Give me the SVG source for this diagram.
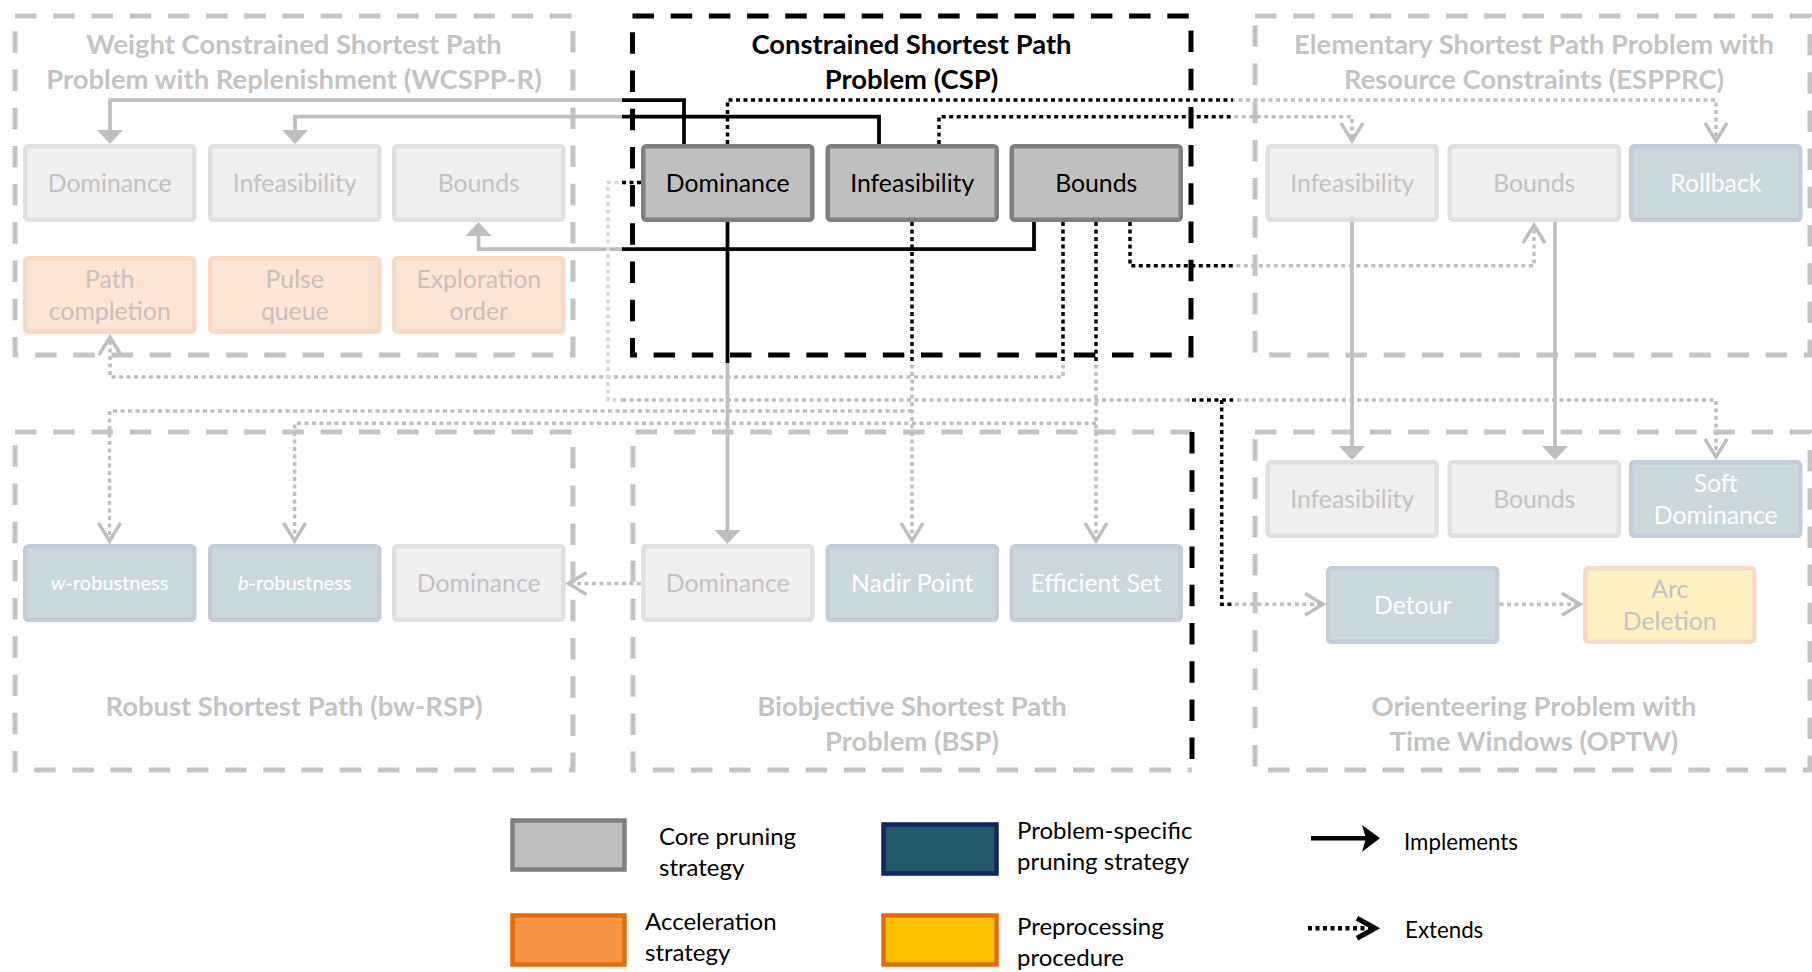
<svg xmlns="http://www.w3.org/2000/svg" width="1812" height="972" viewBox="0 0 1812 972">
  <style>
    .frame { fill: none; stroke: #c4c4c4; stroke-width: 5; stroke-dasharray: 21.5 16.7; }
    .frame.lit { stroke: #000; }
    .title { font-family: Lato, "Liberation Sans", sans-serif; font-weight: 700; font-size: 27.4px; fill: #c4c4c4; text-anchor: middle; }
    .title.lit { fill: #000; }
    .node rect { stroke-width: 4.5; }
    .node text { font-family: Lato, "Liberation Sans", sans-serif; font-size: 24.8px; text-anchor: middle; }
    .node text.small { font-size: 20px; }
    .core rect { fill: #bfbfbf; stroke: #7f7f7f; }
    .core text { fill: #000; }
    .core-dim rect { fill: #efefef; stroke: #e0e0e0; }
    .core-dim text { fill: #c3c3c3; }
    .spec-dim rect { fill: #cbd9dd; stroke: #c5cddb; }
    .spec-dim text { fill: #fff; }
    .accel-dim rect { fill: #fde5d4; stroke: #fad9c3; }
    .accel-dim text { fill: #c6c2bf; }
    .prep-dim rect { fill: #fff0c2; stroke: #f9dac3; }
    .prep-dim text { fill: #c4c4c4; }
    .wire { fill: none; stroke-width: 3.75; stroke-linejoin: miter; }
    .dot { fill: none; stroke-width: 3.5; stroke-dasharray: 4 3.5; }
    .faint { stroke: #d9d9d9; }
    .legend text { font-family: Lato, "Liberation Sans", sans-serif; font-size: 24px; fill: #000; }
    .legend text.small { font-size: 22.3px; }
    .legend rect { stroke-width: 4.5; }
  </style>
  <defs>
    <!-- highlighted area around the CSP box; everything else is drawn washed out -->
    <clipPath id="lit">
      <path d="M622,0 H1233 V780 H1188 V363 H622 Z"/>
    </clipPath>
    <clipPath id="dim">
      <path clip-rule="evenodd" d="M0,0 H1812 V972 H0 Z M622,0 H1233 V780 H1188 V363 H622 Z"/>
    </clipPath>
    <marker id="tri" markerUnits="userSpaceOnUse" markerWidth="16" markerHeight="28" refX="11" refY="13" orient="auto" overflow="visible">
      <path d="M0,0 L14,13 L0,26 Z" fill="#bfbfbf"/>
    </marker>
    <marker id="chev" markerUnits="userSpaceOnUse" markerWidth="20" markerHeight="24" refX="18" refY="11" orient="auto" overflow="visible">
      <path d="M0,0 L18,11 L0,22" fill="none" stroke="#bfbfbf" stroke-width="3.5"/>
    </marker>
  </defs>

  <rect width="1812" height="972" fill="#fff"/>

  <!-- problem frames -->
  <g id="frames">
    <rect class="frame" x="15" y="16" width="558" height="339"/>
    <rect class="frame lit" x="632.5" y="16" width="558.5" height="339"/>
    <rect class="frame" x="1255" y="16" width="555" height="339"/>
    <rect class="frame" x="15" y="432" width="558" height="338"/>
    <path class="frame" d="M1192,432 H633 V770 H1192"/>
    <path class="frame lit" d="M1192,432 V770"/>
    <rect class="frame" x="1255" y="432" width="555" height="338"/>
  </g>

  <g id="titles">
    <text class="title" x="294" y="53.5">Weight Constrained Shortest Path</text>
    <text class="title" x="294" y="88.5">Problem with Replenishment (WCSPP-R)</text>
    <text class="title lit" x="911.5" y="53.5">Constrained Shortest Path</text>
    <text class="title lit" x="911.5" y="88.5">Problem (CSP)</text>
    <text class="title" x="1534" y="53.5">Elementary Shortest Path Problem with</text>
    <text class="title" x="1534" y="88.5">Resource Constraints (ESPPRC)</text>
    <text class="title" x="294" y="715.5">Robust Shortest Path (bw-RSP)</text>
    <text class="title" x="912" y="715.5">Biobjective Shortest Path</text>
    <text class="title" x="912" y="750.5">Problem (BSP)</text>
    <text class="title" x="1534" y="715.5">Orienteering Problem with</text>
    <text class="title" x="1534" y="750.5">Time Windows (OPTW)</text>
  </g>

  <!-- connectors: one washed-out copy with arrowheads, one dark copy inside the highlight -->
  <g id="connectors">
    <g id="links-dim" clip-path="url(#dim)" stroke="#bfbfbf">
      <path class="wire" d="M684,144 V100 H110 V141" marker-end="url(#tri)"/>
      <path class="wire" d="M879,144 V116.7 H295 V141" marker-end="url(#tri)"/>
      <path class="wire" d="M1034,222 V249 H478.5 V225" marker-end="url(#tri)"/>
      <path class="wire" d="M727.5,222 V541" marker-end="url(#tri)"/>
      <path class="wire" d="M1352,222 V457" marker-end="url(#tri)"/>
      <path class="wire" d="M1555,222 V457" marker-end="url(#tri)"/>
      <path class="dot" d="M727.5,144 V100 H1716 V141" marker-end="url(#chev)"/>
      <path class="dot" d="M939,144 V116.7 H1352 V141" marker-end="url(#chev)"/>
      <path class="dot" d="M1130,222 V265.7 H1534 V225" marker-end="url(#chev)"/>
      <path class="dot" d="M912,222 V541" marker-end="url(#chev)"/>
      <path class="dot" d="M1096,222 V541" marker-end="url(#chev)"/>
      <path class="dot" d="M1063,222 V377 H110 V337" marker-end="url(#chev)"/>
      <path class="dot faint" d="M641,182.5 H608 V400 H622"/>
      <path class="dot" d="M622,400 H1716 V457" marker-end="url(#chev)"/>
      <path class="dot" d="M1221.7,400 V604.3 H1323" marker-end="url(#chev)"/>
      <path class="dot" d="M912,411 H109.5 V541" marker-end="url(#chev)"/>
      <path class="dot" d="M1096,423.3 H294.6 V541" marker-end="url(#chev)"/>
      <path class="dot" d="M641,583.5 H568.5" marker-end="url(#chev)"/>
      <path class="dot" d="M1499.5,604.3 H1580" marker-end="url(#chev)"/>
    </g>
    <g id="links-lit" clip-path="url(#lit)" stroke="#000">
      <path class="wire" d="M684,144 V100 H110 V141"/>
      <path class="wire" d="M879,144 V116.7 H295 V141"/>
      <path class="wire" d="M1034,222 V249 H478.5 V225"/>
      <path class="wire" d="M727.5,222 V541"/>
      <path class="dot" d="M727.5,144 V100 H1716 V141"/>
      <path class="dot" d="M939,144 V116.7 H1352 V141"/>
      <path class="dot" d="M1130,222 V265.7 H1534 V225"/>
      <path class="dot" d="M912,222 V541"/>
      <path class="dot" d="M1096,222 V541"/>
      <path class="dot" d="M1063,222 V377 H110 V337"/>
      <path class="dot" d="M641,182.5 H608 V400 H622"/>
      <path class="dot" d="M622,400 H1716 V457"/>
      <path class="dot" d="M1221.7,400 V604.3 H1323"/>
    </g>
  </g>

  <!-- WCSPP-R -->
  <g id="wcspp-dominance" class="node core-dim"><rect x="25.25" y="146.25" width="169" height="73.5" rx="3"/><text x="109.75" y="191.5">Dominance</text></g>
  <g id="wcspp-infeasibility" class="node core-dim"><rect x="210.25" y="146.25" width="169" height="73.5" rx="3"/><text x="294.75" y="191.5">Infeasibility</text></g>
  <g id="wcspp-bounds" class="node core-dim"><rect x="394.25" y="146.25" width="169" height="73.5" rx="3"/><text x="478.75" y="191.5">Bounds</text></g>
  <g id="wcspp-path-completion" class="node accel-dim"><rect x="25.25" y="258.25" width="169" height="73.5" rx="3"/><text x="109.75" y="287.5">Path</text><text x="109.75" y="319.5">completion</text></g>
  <g id="wcspp-pulse-queue" class="node accel-dim"><rect x="210.25" y="258.25" width="169" height="73.5" rx="3"/><text x="294.75" y="287.5">Pulse</text><text x="294.75" y="319.5">queue</text></g>
  <g id="wcspp-exploration-order" class="node accel-dim"><rect x="394.25" y="258.25" width="169" height="73.5" rx="3"/><text x="478.75" y="287.5">Exploration</text><text x="478.75" y="319.5">order</text></g>

  <!-- CSP -->
  <g id="csp-dominance" class="node core"><rect x="643.25" y="146.25" width="169" height="73.5" rx="3"/><text x="727.75" y="191.5">Dominance</text></g>
  <g id="csp-infeasibility" class="node core"><rect x="827.75" y="146.25" width="169" height="73.5" rx="3"/><text x="912.25" y="191.5">Infeasibility</text></g>
  <g id="csp-bounds" class="node core"><rect x="1011.75" y="146.25" width="169" height="73.5" rx="3"/><text x="1096.25" y="191.5">Bounds</text></g>

  <!-- ESPPRC -->
  <g id="espprc-infeasibility" class="node core-dim"><rect x="1267.75" y="146.25" width="169" height="73.5" rx="3"/><text x="1352.25" y="191.5">Infeasibility</text></g>
  <g id="espprc-bounds" class="node core-dim"><rect x="1449.75" y="146.25" width="169" height="73.5" rx="3"/><text x="1534.25" y="191.5">Bounds</text></g>
  <g id="espprc-rollback" class="node spec-dim"><rect x="1631.25" y="146.25" width="169" height="73.5" rx="3"/><text x="1715.75" y="191.5">Rollback</text></g>

  <!-- bw-RSP -->
  <g id="rsp-w-robustness" class="node spec-dim"><rect x="25.25" y="546.25" width="169" height="73.5" rx="3"/><text class="small" x="109.75" y="590"><tspan font-style="italic">w</tspan>-robustness</text></g>
  <g id="rsp-b-robustness" class="node spec-dim"><rect x="210.25" y="546.25" width="169" height="73.5" rx="3"/><text class="small" x="294.75" y="590"><tspan font-style="italic">b</tspan>-robustness</text></g>
  <g id="rsp-dominance" class="node core-dim"><rect x="394.25" y="546.25" width="169" height="73.5" rx="3"/><text x="478.75" y="591.5">Dominance</text></g>

  <!-- BSP -->
  <g id="bsp-dominance" class="node core-dim"><rect x="643.25" y="546.25" width="169" height="73.5" rx="3"/><text x="727.75" y="591.5">Dominance</text></g>
  <g id="bsp-nadir-point" class="node spec-dim"><rect x="827.75" y="546.25" width="169" height="73.5" rx="3"/><text x="912.25" y="591.5">Nadir Point</text></g>
  <g id="bsp-efficient-set" class="node spec-dim"><rect x="1011.75" y="546.25" width="169" height="73.5" rx="3"/><text x="1096.25" y="591.5">Efficient Set</text></g>

  <!-- OPTW -->
  <g id="optw-infeasibility" class="node core-dim"><rect x="1267.75" y="462.25" width="169" height="73.5" rx="3"/><text x="1352.25" y="507.5">Infeasibility</text></g>
  <g id="optw-bounds" class="node core-dim"><rect x="1449.75" y="462.25" width="169" height="73.5" rx="3"/><text x="1534.25" y="507.5">Bounds</text></g>
  <g id="optw-soft-dominance" class="node spec-dim"><rect x="1631.25" y="462.25" width="169" height="73.5" rx="3"/><text x="1715.75" y="491.5">Soft</text><text x="1715.75" y="523.5">Dominance</text></g>
  <g id="optw-detour" class="node spec-dim"><rect x="1328.25" y="568.25" width="169" height="73.5" rx="3"/><text x="1412.75" y="613.5">Detour</text></g>
  <g id="optw-arc-deletion" class="node prep-dim"><rect x="1585.25" y="568.25" width="169" height="73.5" rx="3"/><text x="1669.75" y="597.5">Arc</text><text x="1669.75" y="629.5">Deletion</text></g>

  <!-- legend -->
  <g id="legend" class="legend">
    <rect x="512.5" y="820.5" width="112" height="49" fill="#bfbfbf" stroke="#7f7f7f"/>
    <text x="659" y="845">Core pruning</text>
    <text x="659" y="876">strategy</text>
    <rect x="883.5" y="824.5" width="113" height="49" fill="#215968" stroke="#10245e"/>
    <text x="1017" y="839">Problem-specific</text>
    <text x="1017" y="870">pruning strategy</text>
    <rect x="512.5" y="915.5" width="112" height="49" fill="#f79646" stroke="#e46c0a"/>
    <text x="645" y="930">Acceleration</text>
    <text x="645" y="961">strategy</text>
    <rect x="883.5" y="915.5" width="113" height="49" fill="#ffc000" stroke="#e46c0a"/>
    <text x="1017" y="935">Preprocessing</text>
    <text x="1017" y="966">procedure</text>
    <path d="M1311,838.3 H1367" stroke="#000" stroke-width="4.5" fill="none"/>
    <path d="M1362,825 L1380,838.3 L1362,851.7 L1366,838.3 Z" fill="#000"/>
    <text class="small" x="1404" y="850">Implements</text>
    <path d="M1308,928.3 H1370" stroke="#000" stroke-width="4.5" stroke-dasharray="4 3.5" fill="none"/>
    <path d="M1357,918.3 L1375,928.3 L1357,938.3" stroke="#000" stroke-width="5" fill="none"/>
    <text class="small" x="1405" y="938">Extends</text>
  </g>
</svg>
